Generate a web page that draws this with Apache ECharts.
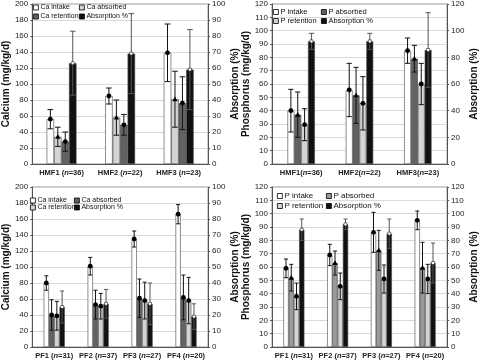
<!DOCTYPE html>
<html>
<head>
<meta charset="utf-8">
<script src="https://cdn.jsdelivr.net/npm/echarts@6/dist/echarts.min.js"></script>
<style>
  html, body { margin: 0; padding: 0; background: #fff; }
  #chart { width: 480px; height: 360px; }
</style>
</head>
<body>
<div id="chart"></div>
<script>
// categories
const hmfCats = ['HMF1', 'HMF2', 'HMF3'];
const hmfN = [36, 22, 23];
const pfCats = ['PF1', 'PF2', 'PF3', 'PF4'];
const pfN = [31, 37, 27, 20];

// calcium, HMF groups (mean / sd)
const caHmfIntake = [56, 85, 139];
const caHmfIntakeSd = [12, 10, 36];
const caHmfAbsorbed = [34, 58, 81];
const caHmfAbsorbedSd = [12, 22, 35];
const caHmfRetention = [28, 49, 76];
const caHmfRetentionSd = [12, 13, 33];
const caHmfAbsPct = [63, 69, 59];
const caHmfAbsPctSd = [20, 25, 25];

// phosphorus, HMF groups
const pHmfIntake = [40, 55.5, 85];
const pHmfIntakeSd = [16, 20, 9.5];
const pHmfAbsorbed = [37, 51.5, 79];
const pHmfAbsorbedSd = [17, 21, 10];
const pHmfRetention = [29.5, 45.5, 60];
const pHmfRetentionSd = [12, 20, 15.5];
const pHmfAbsPct = [92, 92, 85.5];
const pHmfAbsPctSd = [6, 6, 28];

// calcium, PF groups
const caPfIntake = [80, 101, 135, 166];
const caPfIntakeSd = [9, 11, 10, 12];
const caPfAbsorbed = [40, 53, 61, 62];
const caPfAbsorbedSd = [19, 18, 24, 28];
const caPfRetention = [39, 51, 58, 58];
const caPfRetentionSd = [18, 16, 23, 29];
const caPfAbsPct = [25, 27, 27, 19];
const caPfAbsPctSd = [10, 9, 13, 8];

// phosphorus, PF groups
const pPfIntake = [59, 69, 86, 95];
const pPfIntakeSd = [7, 8, 15, 7];
const pPfAbsorbed = [52, 63, 72.5, 59.5];
const pPfAbsorbedSd = [10, 9, 15, 19];
const pPfRetention = [38, 45.5, 51, 51];
const pPfRetentionSd = [10, 10, 10.5, 11];
const pPfAbsPct = [88, 92, 85, 63];
const pPfAbsPctSd = [8, 4, 11, 15];

const FONT = 'Liberation Sans';
const WHITE = '#ffffff', LIGHT = '#d4d4d4', DARK = '#626262', BLACK = '#111111';

const panels = [
  {
    grid: { left: 32, top: 3, width: 176, height: 161 },
    cats: hmfCats, n: hmfN, sep: ' ', gap: 0.49,
    yName: 'Calcium (mg/kg/d)', yMax: 200, yInt: 20, rMax: 100, rInt: 10,
    bars: [
      ['Ca intake', caHmfIntake, caHmfIntakeSd, WHITE, 'circle'],
      ['Ca absorbed', caHmfAbsorbed, caHmfAbsorbedSd, LIGHT, 'triangle'],
      ['Ca retention', caHmfRetention, caHmfRetentionSd, DARK, 'circle'],
      ['Absorption %', caHmfAbsPct, caHmfAbsPctSd, BLACK, 'square']
    ],
    legend: { x1: 33, x2: 79, top: 4, font: 7, gap: 2 }
  },
  {
    grid: { left: 272, top: 3, width: 182, height: 161 },
    cats: hmfCats, n: hmfN, sep: '', gap: 0.53,
    yName: 'Phosphorus (mg/kg/d)', yMax: 120, yInt: 10, rMax: 120, rInt: 20,
    bars: [
      ['P intake', pHmfIntake, pHmfIntakeSd, WHITE, 'circle'],
      ['P absorbed', pHmfAbsorbed, pHmfAbsorbedSd, DARK, 'triangle'],
      ['P retention', pHmfRetention, pHmfRetentionSd, LIGHT, 'circle'],
      ['Absorption %', pHmfAbsPct, pHmfAbsPctSd, BLACK, 'square']
    ],
    legend: { x1: 273, x2: 321, top: 8, font: 7.5, gap: 1 }
  },
  {
    grid: { left: 32, top: 187, width: 176, height: 161 },
    cats: pfCats, n: pfN, sep: ' ', gap: 0.52,
    yName: 'Calcium (mg/kg/d)', yMax: 200, yInt: 20, rMax: 100, rInt: 10,
    bars: [
      ['Ca intake', caPfIntake, caPfIntakeSd, WHITE, 'circle'],
      ['Ca absorbed', caPfAbsorbed, caPfAbsorbedSd, DARK, 'circle'],
      ['Ca retention', caPfRetention, caPfRetentionSd, LIGHT, 'circle'],
      ['Absorption %', caPfAbsPct, caPfAbsPctSd, BLACK, 'square']
    ],
    legend: { x1: 30, x2: 74, top: 197, font: 7, gap: 0 }
  },
  {
    grid: { left: 272, top: 187, width: 184, height: 163 },
    cats: pfCats, n: pfN, sep: ' ', gap: 0.52,
    yName: 'Phosphorus (mg/kg/d)', yMax: 120, yInt: 10, rMax: 120, rInt: 10,
    bars: [
      ['P intake', pPfIntake, pPfIntakeSd, WHITE, 'circle'],
      ['P absorbed', pPfAbsorbed, pPfAbsorbedSd, '#9a9a9a', 'triangle'],
      ['P retention', pPfRetention, pPfRetentionSd, LIGHT, 'circle'],
      ['Absorption %', pPfAbsPct, pPfAbsPctSd, BLACK, 'square']
    ],
    legend: { x1: 277, x2: 326, top: 192, font: 8, gap: 2 }
  }
];

// whiskers + mean marker, placed over the k-th bar of a 4-bar group
function errItem(k, gap, mark, wc) {
  return function (params, api) {
    const cat = api.value(0), m = api.value(1), sd = api.value(2);
    const band = api.size([1, 0])[0];
    const gw = band * (1 - gap);
    const bw = gw / 4;
    const c = api.coord([cat, m]);
    const x = c[0] - gw / 2 + bw * (k + 0.5);
    const y = c[1];
    const yt = api.coord([cat, m + sd])[1];
    const yb = api.coord([cat, Math.max(0, m - sd)])[1];
    const cap = Math.max(2, bw * 0.38);
    const st = { stroke: wc, lineWidth: 1 };
    const ch = [
      { type: 'line', shape: { x1: x, y1: yt, x2: x, y2: yb }, style: st },
      { type: 'line', shape: { x1: x - cap, y1: yt, x2: x + cap, y2: yt }, style: st },
      { type: 'line', shape: { x1: x - cap, y1: yb, x2: x + cap, y2: yb }, style: st }
    ];
    if (mark === 'circle') {
      ch.push({ type: 'circle', shape: { cx: x, cy: y, r: 2.4 }, style: { fill: '#000' } });
    } else if (mark === 'triangle') {
      ch.push({ type: 'polygon', shape: { points: [[x, y - 2.8], [x - 2.6, y + 2], [x + 2.6, y + 2]] }, style: { fill: '#000' } });
    } else {
      ch.push({ type: 'rect', shape: { x: x - 1.5, y: y - 1.5, width: 3, height: 3 }, style: { fill: '#fff', stroke: '#000', lineWidth: 0.5 } });
    }
    return { type: 'group', children: ch };
  };
}

const grid = [], xAxis = [], yAxis = [], series = [], legend = [];
const lbl = { fontFamily: FONT, fontSize: 8, color: '#222' };

panels.forEach((p, pi) => {
  grid.push(Object.assign({ show: true, borderColor: '#9a9a9a', borderWidth: 1, backgroundColor: '#fff' }, p.grid));
  xAxis.push({
    type: 'category', gridIndex: pi, data: p.cats,
    axisLine: { lineStyle: { color: '#555' } },
    axisTick: { show: false },
    axisLabel: {
      margin: 5, interval: 0, hideOverlap: false,
      formatter: (v, i) => `{b|${v}${p.sep}(}{i|n}{b|=${p.n[i]})}`,
      rich: {
        b: { fontFamily: FONT, fontSize: 7.5, fontWeight: 'bold', color: '#222' },
        i: { fontFamily: FONT, fontSize: 7.5, fontWeight: 'bold', fontStyle: 'italic', color: '#222' }
      }
    }
  });
  yAxis.push({
    type: 'value', gridIndex: pi, min: 0, max: p.yMax, interval: p.yInt,
    name: p.yName, nameLocation: 'middle', nameGap: 20,
    nameTextStyle: { fontFamily: FONT, fontSize: 10, fontWeight: 'bold', color: '#111' },
    axisLine: { show: true, lineStyle: { color: '#555' } },
    axisTick: { show: true, length: 2, lineStyle: { color: '#555' } },
    axisLabel: Object.assign({ margin: 4 }, lbl),
    splitLine: { lineStyle: { color: '#cfcfcf', width: 0.8 } }
  });
  yAxis.push({
    type: 'value', gridIndex: pi, position: 'right', min: 0, max: p.rMax, interval: p.rInt,
    name: 'Absorption (%)', nameLocation: 'middle', nameGap: 22,
    nameTextStyle: { fontFamily: FONT, fontSize: 10, fontWeight: 'bold', color: '#111' },
    axisLine: { show: true, lineStyle: { color: '#555' } },
    axisTick: { show: true, length: 2, lineStyle: { color: '#555' } },
    axisLabel: Object.assign({ margin: 4 }, lbl),
    splitLine: { show: false }
  });

  p.bars.forEach((b, k) => {
    const [name, mean, sd, color, mark] = b;
    const yi = pi * 2 + (k === 3 ? 1 : 0);
    series.push({
      type: 'bar', name, xAxisIndex: pi, yAxisIndex: yi, data: mean,
      barGap: '0%', barCategoryGap: Math.round(p.gap * 100) + '%',
      itemStyle: { color, borderColor: '#444', borderWidth: 0.6 },
      silent: true, z: 2
    });
    series.push({
      type: 'custom', name, xAxisIndex: pi, yAxisIndex: yi,
      data: mean.map((m, i) => [i, m, sd[i]]),
      renderItem: errItem(k, p.gap, mark, k === 3 ? '#555' : '#111'),
      silent: true, z: 3
    });
  });

  const item = (k) => ({
    name: p.bars[k][0], icon: 'rect',
    itemStyle: { color: p.bars[k][3], borderColor: '#000', borderWidth: 0.8 }
  });
  const lg = p.legend;
  [[0, 2, lg.x1], [1, 3, lg.x2]].forEach(([a, c, x]) => {
    legend.push({
      orient: 'vertical', left: x, top: lg.top, padding: 0,
      itemWidth: 5, itemHeight: 5, itemGap: lg.gap,
      selectedMode: false,
      textStyle: { fontFamily: FONT, fontSize: lg.font, color: '#111', padding: [0, 0, 0, -3] },
      data: [item(a), item(c)]
    });
  });
});

const chart = echarts.init(document.getElementById('chart'), null, { renderer: 'canvas' });
chart.setOption({
  animation: false,
  backgroundColor: '#fff',
  grid, xAxis, yAxis, series, legend
});
</script>
</body>
</html>
